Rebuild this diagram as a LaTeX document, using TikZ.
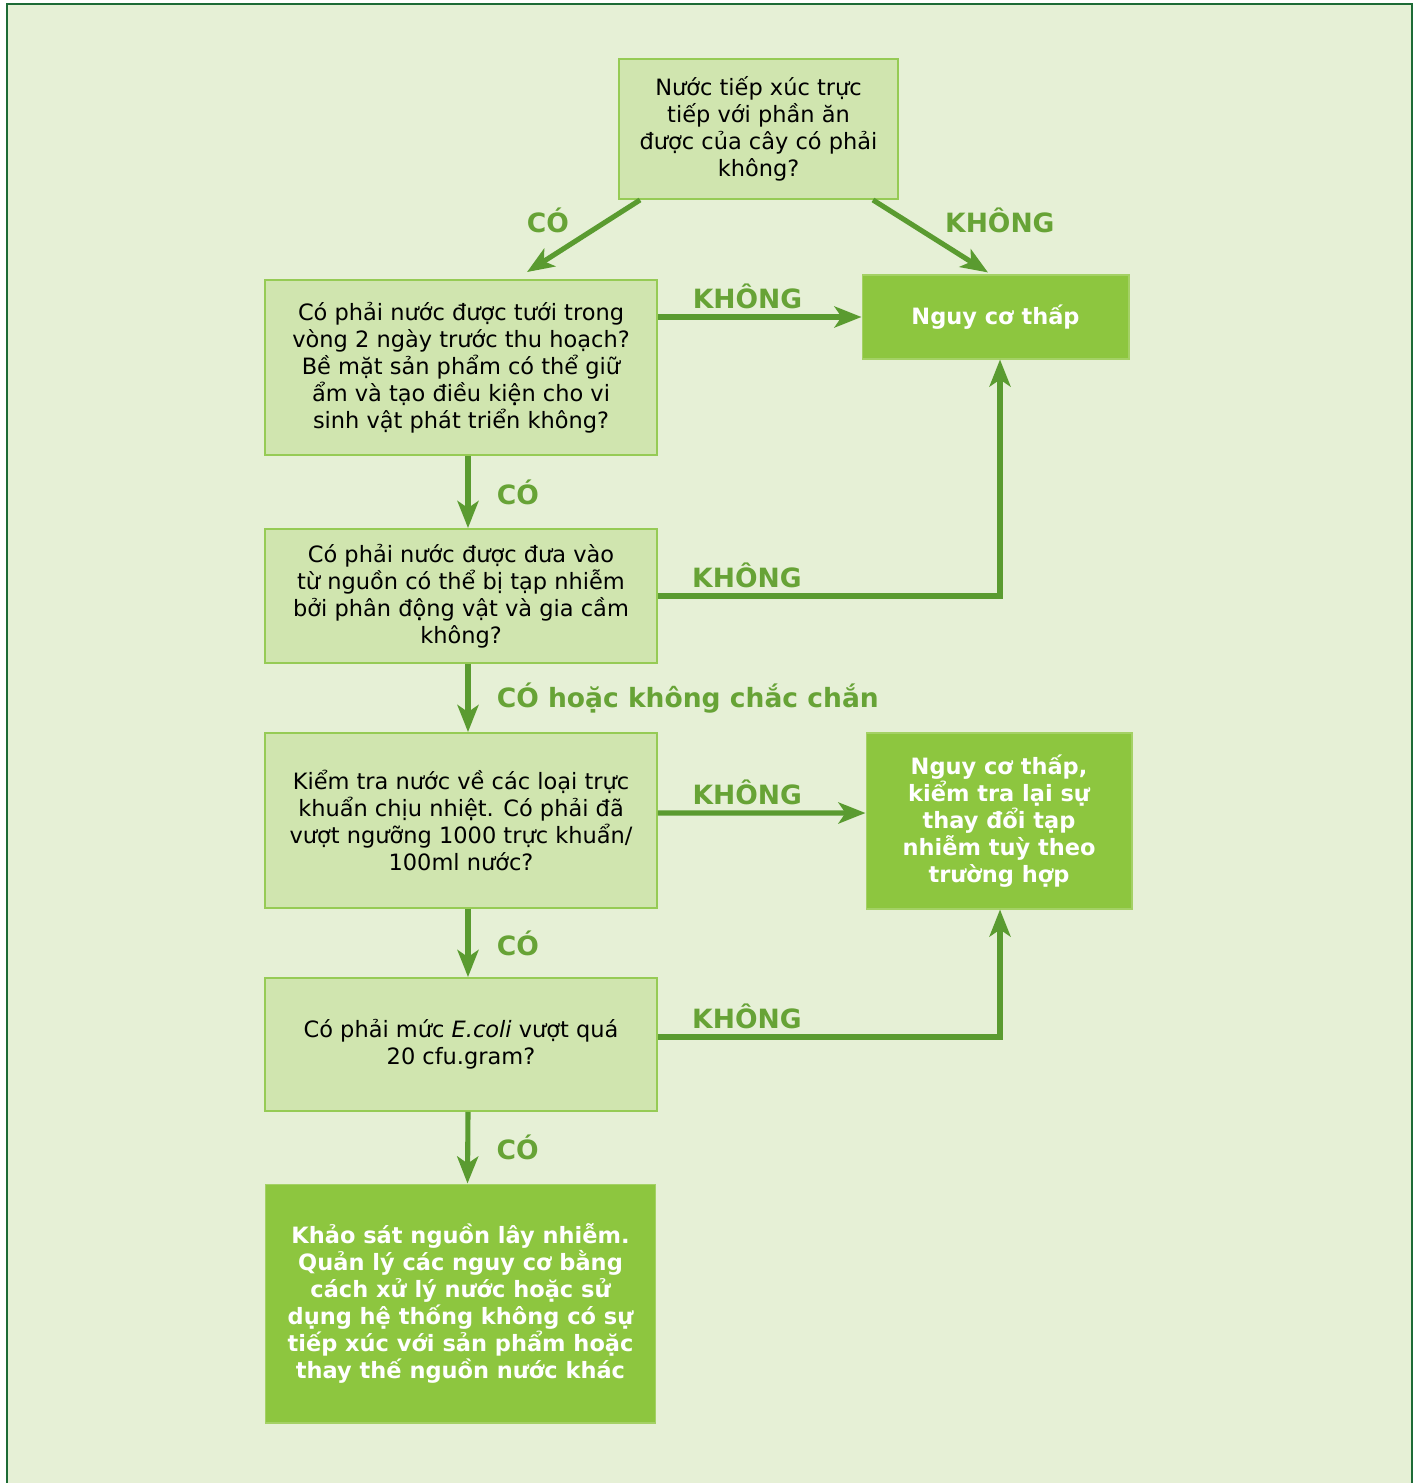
\documentclass[tikz,border=0pt]{standalone}
\usepackage{fontspec}
\setmainfont{DejaVu Sans}
\usetikzlibrary{positioning,arrows.meta}

\definecolor{bgpale}{HTML}{E6F0D6}
\definecolor{qfill}{HTML}{D0E5AF}
\definecolor{qline}{HTML}{96CB55}
\definecolor{leaf}{HTML}{8DC63F}
\definecolor{arr}{HTML}{5A9B30}
\definecolor{lbcol}{HTML}{67A336}
\definecolor{frm}{HTML}{1D6B36}

\begin{document}
\begin{tikzpicture}[
  x=0.02cm, y=-0.02cm,
  font=\fontsize{12.8}{15.4}\selectfont,
  qbox/.style={draw=qline, line width=1.1pt, fill=qfill, align=center,
               inner sep=2pt, minimum width=7.84cm},
  leafbox/.style={draw=leaf!80!white, line width=0.6pt, fill=leaf, text=white,
                  align=center, inner sep=2pt, font=\fontsize{12.8}{15.4}\selectfont\bfseries},
  >={Stealth[length=5.4mm, width=4.2mm, inset=1.4mm]},
  ln/.style={->, draw=arr, line width=2.9pt},
  lb/.style={font=\fontsize{15.1}{18}\selectfont\bfseries, text=lbcol, inner sep=3pt},
]

% frame
\useasboundingbox (0,0) rectangle (1416,1483);
\fill[white] (0,0) rectangle (1416,1483);
\draw[frm, line width=1.2pt, fill=bgpale] (7,4) rectangle (1412,1520);

% questions
\node[qbox, minimum width=5.58cm, minimum height=2.8cm] (q1) at (758.5,129)
     {Nước tiếp xúc trực\\ tiếp với phần ăn\\ được của cây có phải\\ không?};
\node[qbox, minimum height=3.5cm] (q2) at (461,367.5)
     {Có phải nước được tưới trong\\ vòng 2 ngày trước thu hoạch?\\
      Bề mặt sản phẩm có thể giữ\\ ẩm và tạo điều kiện cho vi\\
      sinh vật phát triển không?};
\node[qbox, minimum height=2.68cm] (q3) at (461,596)
     {Có phải nước được đưa vào\\ từ nguồn có thể bị tạp nhiễm\\
      bởi phân động vật và gia cầm\\ không?};
\node[qbox, minimum height=3.5cm] (q4) at (461,820.5)
     {Kiểm tra nước về các loại trực\\ khuẩn chịu nhiệt. Có phải đã\\
      vượt ngưỡng 1000 trực khuẩn/\\ 100ml nước?};
\node[qbox, minimum height=2.66cm] (q5) at (461,1044.5)
     {Có phải mức \textit{E.coli} vượt quá\\ 20 cfu.gram?};

% outcomes
\node[leafbox, minimum width=5.34cm, minimum height=1.68cm] (low1) at (995.5,317)
     {Nguy cơ thấp};
\node[leafbox, minimum width=5.32cm, minimum height=3.52cm] (low2) at (999,821)
     {Nguy cơ thấp,\\ kiểm tra lại sự\\ thay đổi tạp\\ nhiễm tuỳ theo\\ trường hợp};
\node[leafbox, minimum width=7.82cm, minimum height=4.78cm] (act) at (460.5,1303.5)
     {Khảo sát nguồn lây nhiễm.\\ Quản lý các nguy cơ bằng\\
      cách xử lý nước hoặc sử\\ dụng hệ thống không có sự\\
      tiếp xúc với sản phẩm hoặc\\ thay thế nguồn nước khác};

\draw[ln] ([xshift=0.44cm]q1.south west) -- node[lb, above left, pos=0.56] {CÓ}
      ([xshift=1.32cm, yshift=0.14cm]q2.north);
\draw[ln] ([xshift=-0.52cm]q1.south east) -- node[lb, above right, pos=0.56] {KHÔNG}
      ([xshift=-0.15cm, yshift=0.04cm]low1.north);

\draw[ln] (q2.east |- low1.west) -- node[lb, above, pos=0.44] {KHÔNG} (low1.west);
\draw[ln] ([xshift=0.14cm]q2.south) -- node[lb, right=0.42cm] {CÓ}
      ([xshift=0.14cm]q3.north);

\draw[ln] (q3.east) -| node[lb, above, pos=0.13] {KHÔNG}
      ([xshift=0.09cm]low1.south);
\draw[ln] ([xshift=0.14cm]q3.south) -- node[lb, right=0.42cm] {CÓ hoặc không chắc chắn}
      ([xshift=0.14cm]q4.north);

\draw[ln] ([yshift=0.15cm]q4.east) -- node[lb, above, pos=0.43] {KHÔNG}
      ([yshift=0.16cm]low2.west);
\draw[ln] ([xshift=0.14cm]q4.south) -- node[lb, right=0.42cm] {CÓ}
      ([xshift=0.14cm]q5.north);

\draw[ln] ([yshift=0.15cm]q5.east) -| node[lb, above, pos=0.13] {KHÔNG}
      ([xshift=0.02cm]low2.south);
\draw[ln] ([xshift=0.14cm]q5.south) -- node[lb, right=0.42cm] {CÓ}
      ([xshift=0.14cm]act.north);

\end{tikzpicture}
\end{document}
